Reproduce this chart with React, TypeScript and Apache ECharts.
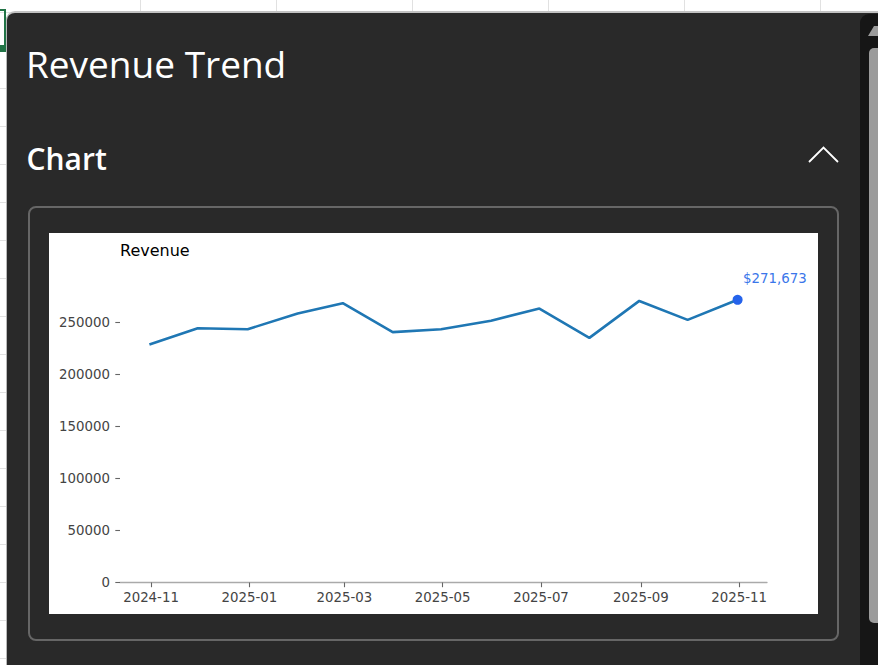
import React, { useEffect, useRef } from "react";
import * as echarts from "echarts";

// ---- data ----
const dates: string[] = [
  "2024-10-31", "2024-11-30", "2024-12-31", "2025-01-31", "2025-02-28",
  "2025-03-31", "2025-04-30", "2025-05-31", "2025-06-30", "2025-07-31",
  "2025-08-31", "2025-09-30", "2025-10-31",
];
const revenue: number[] = [
  228800, 244400, 243400, 258500, 268400,
  240600, 243400, 251600, 263300, 235100,
  270600, 252400, 271673,
];
const xTickMonths: string[] = [
  "2024-11-01", "2025-01-01", "2025-03-01", "2025-05-01",
  "2025-07-01", "2025-09-01", "2025-11-01",
];
const yTicks: number[] = [0, 50000, 100000, 150000, 200000, 250000];
const chartTitle = "Revenue";
const panelTitle = "Revenue Trend";
const sectionTitle = "Chart";

function toTs(s: string): number {
  const [y, m, d] = s.split("-").map(Number);
  return Date.UTC(y, m - 1, d || 1);
}

function fmtMonth(v: number): string {
  const d = new Date(v);
  return d.getUTCFullYear() + "-" + String(d.getUTCMonth() + 1).padStart(2, "0");
}

const FONT = "'DejaVu Sans', sans-serif";

function RevenueChart() {
  const ref = useRef<HTMLDivElement | null>(null);
  useEffect(() => {
    if (!ref.current) return;
    const chart = echarts.init(ref.current, undefined, { renderer: "svg" });
    const pts = dates.map((d, i) => [toTs(d), revenue[i]]);
    const first = toTs(dates[0]);
    const last = toTs(dates[dates.length - 1]);
    const span = last - first;
    const lastPt = pts[pts.length - 1];
    const xTicks = xTickMonths.map(toTs);
    chart.setOption({
      animation: false,
      backgroundColor: "#ffffff",
      title: {
        text: chartTitle,
        left: 71,
        top: 9,
        padding: 0,
        textStyle: {
          fontFamily: FONT,
          fontSize: 16,
          fontWeight: "normal",
          color: "#000000",
          lineHeight: 16,
        },
      },
      grid: { left: 71, right: 51, top: 29, bottom: 31.5, containLabel: false },
      xAxis: {
        type: "value",
        min: first - span * 0.05,
        max: last + span * 0.05,
        scale: true,
        splitLine: { show: false },
        axisLine: { show: true, lineStyle: { color: "#aaaaaa", width: 1.3 } },
        axisTick: {
          show: true,
          length: 4.7,
          lineStyle: { color: "#666666", width: 1.1 },
          customValues: xTicks,
        },
        axisLabel: {
          fontFamily: FONT,
          fontSize: 13.33,
          color: "#444444",
          margin: 8,
          formatter: (v: number) => fmtMonth(v),
          customValues: xTicks,
        },
      },
      yAxis: {
        type: "value",
        min: 0,
        max: 308000,
        splitLine: { show: false },
        axisLine: { show: false },
        axisTick: {
          show: true,
          length: 4.7,
          lineStyle: { color: "#666666", width: 1.1 },
          customValues: yTicks,
        },
        axisLabel: {
          fontFamily: FONT,
          fontSize: 13.33,
          color: "#444444",
          margin: 10,
          formatter: (v: number) => String(v),
          customValues: yTicks,
        },
      },
      series: [
        {
          type: "line",
          data: pts,
          symbol: "none",
          lineStyle: { color: "#1f77b4", width: 2.6 },
          z: 2,
        },
        {
          type: "scatter",
          data: [lastPt],
          symbol: "circle",
          symbolSize: 10,
          itemStyle: { color: "#2563eb", opacity: 1 },
          z: 3,
          label: {
            show: true,
            position: [10.5, -22.5],
            align: "left",
            verticalAlign: "top",
            fontFamily: FONT,
            fontSize: 13.33,
            color: "#3a76ea",
            formatter: (p: any) => "$" + Number(p.value[1]).toLocaleString("en-US"),
          },
        },
      ],
    });
    return () => chart.dispose();
  }, []);
  return (
    <div
      ref={ref}
      style={{ position: "absolute", left: 49, top: 233, width: 769, height: 381 }}
    />
  );
}

export default function App() {
  const rowLines: number[] = [];
  for (let y = 12; y < 665; y += 38) rowLines.push(y);
  const colLines = [140, 276, 412, 548, 684, 820];
  return (
    <div
      style={{
        position: "fixed",
        left: 0,
        top: 0,
        width: 878,
        height: 665,
        overflow: "hidden",
        background: "#ffffff",
        fontFamily: "'Open Sans', 'Noto Sans', sans-serif",
      }}
    >
      {/* spreadsheet grid behind the panel */}
      {colLines.map((x) => (
        <div key={"c" + x} style={{ position: "absolute", left: x, top: 0, width: 1, height: 665, background: "#e1e1e1" }} />
      ))}
      {rowLines.map((y) => (
        <div key={"r" + y} style={{ position: "absolute", left: 0, top: y, width: 878, height: 1, background: "#e1e1e1" }} />
      ))}
      {/* selected cell */}
      <div style={{ position: "absolute", left: -100, top: 9, width: 102, height: 38, border: "2px solid #217346" }} />
      <div style={{ position: "absolute", left: 0, top: 45, width: 6, height: 7, background: "#217346" }} />

      {/* dark task panel */}
      <div
        style={{
          position: "absolute",
          left: 6,
          top: 11,
          width: 900,
          height: 700,
          background: "#292929",
          borderTop: "2px solid #c2c2c2",
          borderLeft: "1px solid #b8b8b8",
          borderTopLeftRadius: 9,
          boxSizing: "border-box",
        }}
      />

      {/* scrollbar */}
      <div
        style={{
          position: "absolute",
          left: 860,
          top: 14,
          width: 40,
          height: 700,
          background: "#161616",
          borderTopLeftRadius: 9,
        }}
      />
      <svg style={{ position: "absolute", left: 860, top: 14, width: 18, height: 30 }} width={18} height={30}>
        <polygon points="8,22 14,12 24,12 24,22" fill="#9c9c9c" strokeLinejoin="round" />
      </svg>
      <div
        style={{
          position: "absolute",
          left: 869,
          top: 48,
          width: 20,
          height: 575,
          background: "#9b9b9b",
          borderRadius: 5,
        }}
      />

      {/* titles */}
      <div
        style={{
          position: "absolute",
          left: 26,
          top: 45,
          fontSize: 37,
          lineHeight: "37px",
          color: "#ffffff",
          fontWeight: 400,
          whiteSpace: "nowrap",
        }}
      >
        {panelTitle}
      </div>
      <div
        style={{
          position: "absolute",
          left: 26.5,
          top: 144,
          fontSize: 30,
          lineHeight: "30px",
          color: "#ffffff",
          fontWeight: 600,
          whiteSpace: "nowrap",
        }}
      >
        {sectionTitle}
      </div>
      <svg style={{ position: "absolute", left: 805, top: 142, width: 40, height: 26 }} width={40} height={26}>
        <polyline points="4,20 18.5,5.5 33,20" fill="none" stroke="#ffffff" strokeWidth={1.8} />
      </svg>

      {/* card */}
      <div
        style={{
          position: "absolute",
          left: 28,
          top: 206,
          width: 811,
          height: 435,
          border: "2px solid #666666",
          borderRadius: 8,
          boxSizing: "border-box",
        }}
      />
      <RevenueChart />
    </div>
  );
}
